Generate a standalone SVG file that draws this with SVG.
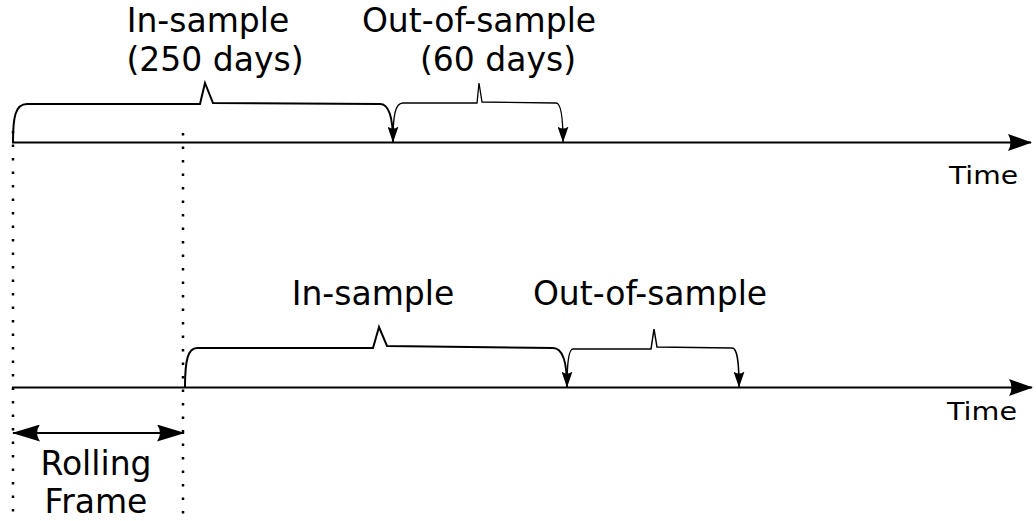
<svg xmlns="http://www.w3.org/2000/svg" width="1036" height="521" viewBox="0 0 1036 521">
<style>
text{font-family:"DejaVu Sans","Liberation Sans",sans-serif;fill:#000}
.big{font-size:33px}
.time{font-size:24px}
.axis{stroke:#000;stroke-width:2.2;fill:none}
.brace{stroke:#000;fill:none;stroke-linejoin:miter}
.dot{stroke:#000;stroke-width:2.5;stroke-dasharray:2.5 11;fill:none}
</style>
<defs>
<marker id="bigArrow" markerUnits="userSpaceOnUse" markerWidth="24" markerHeight="17" viewBox="0 0 24 17" refX="23" refY="8.5" orient="auto">
<path d="M0,0 L24,8.5 L0,17 Q5,8.5 0,0 Z" fill="#000"/>
</marker>
<marker id="smallArrow" markerUnits="userSpaceOnUse" markerWidth="16" markerHeight="11" viewBox="0 0 16 11" refX="15.5" refY="5.5" orient="auto">
<path d="M0,0 L16,5.5 L0,11 Q4,5.5 0,0 Z" fill="#000"/>
</marker>
<marker id="rollArrow" markerUnits="userSpaceOnUse" markerWidth="28" markerHeight="17" viewBox="0 0 28 17" refX="27" refY="8.5" orient="auto-start-reverse">
<path d="M0,0 L28,8.5 L0,17 Q6,8.5 0,0 Z" fill="#000"/>
</marker>
</defs>

<g id="connectors">
<line class="axis" x1="12" y1="142.5" x2="1031" y2="142.5" marker-end="url(#bigArrow)"/>
<line class="axis" x1="12" y1="387.5" x2="1032" y2="387.5" marker-end="url(#bigArrow)"/>
<line class="dot" x1="13" y1="131" x2="13" y2="521"/>
<line class="dot" x1="183" y1="133" x2="183" y2="521"/>
<line class="axis" x1="13" y1="433" x2="184" y2="433" stroke-width="2" marker-start="url(#rollArrow)" marker-end="url(#rollArrow)"/>
</g>

<g id="top-in-sample">
<path class="brace" stroke-width="2" marker-end="url(#smallArrow)" d="M13,142 C13,118 15,104 27,104 L200,104 L205,83 L213,103 L380,104 C388,104 393,114 393,142"/>
<text class="big" x="208" y="32" text-anchor="middle">In-sample</text>
<text class="big" x="215" y="71" text-anchor="middle">(250 days)</text>
</g>

<g id="top-out-of-sample">
<path class="brace" stroke-width="1.3" marker-end="url(#smallArrow)" d="M393,142 C393,116 395,103 403,103 L477,103 L479,83 L482,102 L556,103 C561,103 563,116 563,142"/>
<text class="big" x="479" y="32" text-anchor="middle">Out-of-sample</text>
<text class="big" x="498" y="71" text-anchor="middle">(60 days)</text>
</g>

<g id="bottom-in-sample">
<path class="brace" stroke-width="2" marker-end="url(#smallArrow)" d="M185,387 C185,360 188,348 197,348 L373,348 L379,327 L387,346 L553,348 C562,348 567,360 567,387"/>
<text class="big" x="373" y="305" text-anchor="middle">In-sample</text>
</g>

<g id="bottom-out-of-sample">
<path class="brace" stroke-width="1.5" marker-end="url(#smallArrow)" d="M567,387 C567,362 569,349 573,349 L651,349 L654,329 L657,347 L732,348 C737,348 739,360 739,387"/>
<text class="big" x="650" y="305" text-anchor="middle">Out-of-sample</text>
</g>

<g id="time-labels">
<text class="time" x="949" y="184" textLength="69" lengthAdjust="spacingAndGlyphs">Time</text>
<text class="time" x="947" y="420" textLength="70" lengthAdjust="spacingAndGlyphs">Time</text>
</g>

<g id="rolling-frame">
<text class="big" x="96" y="475" text-anchor="middle" font-size="34">Rolling</text>
<text class="big" x="96" y="513" text-anchor="middle" font-size="34">Frame</text>
</g>
</svg>
